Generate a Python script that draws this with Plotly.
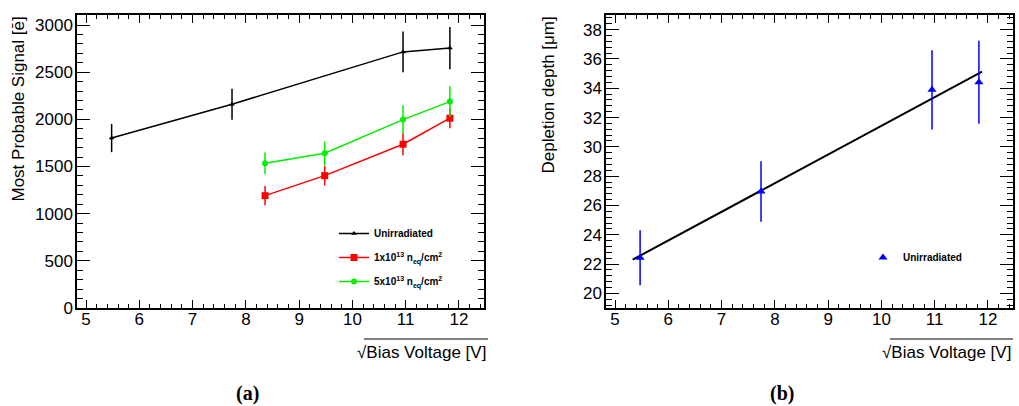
import plotly.graph_objects as go

W, H = 1019, 406

# ---- data (left panel) ----
x_unirr = [5.48, 7.74, 10.95, 11.83]
sig_unirr = [1802, 2160, 2715, 2755]
err_unirr = [150, 165, 216, 225]

x_irr = [8.36, 9.48, 10.95, 11.83]
sig_1e13 = [1191, 1403, 1736, 2012]
err_1e13 = [103, 105, 118, 106]
sig_5e13 = [1534, 1640, 1997, 2188]
err_5e13 = [115, 125, 152, 163]

# ---- data (right panel) ----
x_depth = [5.47, 7.74, 10.95, 11.83]
depth = [22.43, 26.95, 33.89, 34.41]
depth_err = [1.87, 2.07, 2.70, 2.84]
fit_x = [5.33, 11.89]
fit_y = [22.30, 35.13]

FONT = "Liberation Sans"

def px(x):
    return x / W

def py(y):
    return 1 - y / H

fig = go.Figure()

def add_series(x, y, e, color, symbol, size, name, legend, group):
    fig.add_trace(go.Scatter(
        x=x, y=y, mode="lines+markers", name=name,
        line=dict(color=color, width=1.5),
        marker=dict(color=color, symbol=symbol, size=size),
        error_y=dict(type="data", array=e, visible=True, color=color, thickness=1.5, width=0),
        xaxis="x", yaxis="y", legend=legend, legendgroup=group,
    ))

add_series(x_unirr, sig_unirr, err_unirr, "black", "triangle-up", 5, "Unirradiated", "legend", "a")
add_series(x_irr, sig_1e13, err_1e13, "#ff0000", "square", 7,
           "1x10<sup>13</sup> n<sub>eq</sub>/cm<sup>2</sup>", "legend", "b")
add_series(x_irr, sig_5e13, err_5e13, "#00ee00", "circle", 6,
           "5x10<sup>13</sup> n<sub>eq</sub>/cm<sup>2</sup>", "legend", "c")

fig.add_trace(go.Scatter(
    x=fit_x, y=fit_y, mode="lines", line=dict(color="black", width=2),
    showlegend=False, xaxis="x2", yaxis="y2"))
fig.add_trace(go.Scatter(
    x=x_depth, y=depth, mode="markers", name="Unirradiated",
    marker=dict(color="#0000ff", symbol="triangle-up", size=8),
    error_y=dict(type="data", array=depth_err, visible=True, color="#0000ff", thickness=1.5, width=0),
    xaxis="x2", yaxis="y2", legend="legend2"))

tickfont = dict(family=FONT, size=17, color="black")

def xaxis_cfg(dom, anchor):
    return dict(
        domain=dom, anchor=anchor, range=[4.83, 12.47],
        showgrid=False, zeroline=False, showline=True, linecolor="black", linewidth=1.5,
        mirror="ticks", ticks="inside", ticklen=8, tickwidth=1.2, tickcolor="black",
        dtick=1, tick0=5, tickfont=tickfont, ticklabelstandoff=-5,
        minor=dict(ticks="inside", ticklen=4, dtick=0.2, tick0=5, tickcolor="black", tickwidth=1),
    )

def yaxis_cfg(rng, dtick, mdtick, anchor):
    return dict(
        domain=[py(308), py(15)], anchor=anchor, range=rng,
        showgrid=False, zeroline=False, showline=True, linecolor="black", linewidth=1.5,
        mirror="ticks", ticks="inside", ticklen=13, tickwidth=1.2, tickcolor="black",
        dtick=dtick, tickfont=tickfont, ticklabelstandoff=-1,
        minor=dict(ticks="inside", ticklen=6, dtick=mdtick, tickcolor="black", tickwidth=1),
    )

fig.update_layout(
    width=W, height=H, autosize=False,
    margin=dict(l=0, r=0, t=0, b=0, pad=0, autoexpand=False),
    paper_bgcolor="white", plot_bgcolor="white",
    font=dict(family=FONT, color="black"),
    xaxis=xaxis_cfg([px(77), px(484)], "y"),
    yaxis=yaxis_cfg([0, 3106], 500, 100, "x"),
    xaxis2=xaxis_cfg([px(606), px(1013)], "y2"),
    yaxis2=yaxis_cfg([19, 39], 2, 0.4, "x2"),
    legend=dict(x=px(334), y=py(219), xanchor="left", yanchor="top",
                bgcolor="rgba(0,0,0,0)", tracegroupgap=5, itemwidth=30,
                font=dict(family=FONT, size=10, color="black", weight="bold")),
    legend2=dict(x=px(863), y=py(243), xanchor="left", yanchor="top",
                 bgcolor="rgba(0,0,0,0)", itemwidth=30,
                 font=dict(family=FONT, size=10, color="black", weight="bold")),
    showlegend=True,
)

ann = []
ann.append(dict(text="Most Probable Signal [ē]", x=px(18), y=py(15), xref="paper", yref="paper",
                xanchor="center", yanchor="top", textangle=-90, showarrow=False,
                font=dict(family=FONT, size=17, color="black")))
ann.append(dict(text="Depletion depth [μm]", x=px(548), y=py(15), xref="paper", yref="paper",
                xanchor="center", yanchor="top", textangle=-90, showarrow=False,
                font=dict(family=FONT, size=17, color="black")))
for xr in (488, 1013):
    ann.append(dict(text="√Bias Voltage [V]", x=px(xr), y=py(352), xref="paper", yref="paper",
                    xanchor="right", yanchor="middle", showarrow=False,
                    font=dict(family=FONT, size=17, color="black")))
ann.append(dict(text="<b>(a)</b>", x=px(247), y=py(393), xref="paper", yref="paper",
                xanchor="center", yanchor="middle", showarrow=False,
                font=dict(family="Liberation Serif", size=20, color="black")))
ann.append(dict(text="<b>(b)</b>", x=px(782), y=py(393), xref="paper", yref="paper",
                xanchor="center", yanchor="middle", showarrow=False,
                font=dict(family="Liberation Serif", size=20, color="black")))
fig.update_layout(annotations=ann)

shapes = []
for x0, x1 in ((364, 488), (890, 1013)):
    shapes.append(dict(type="line", xref="paper", yref="paper", x0=px(x0), x1=px(x1),
                       y0=py(339), y1=py(339), line=dict(color="black", width=1)))
fig.update_layout(shapes=shapes)

fig.write_html(
    "out.html",
    config={"responsive": False, "displayModeBar": False},
    post_script="document.body.style.margin='0';document.body.style.overflow='hidden';",
)
